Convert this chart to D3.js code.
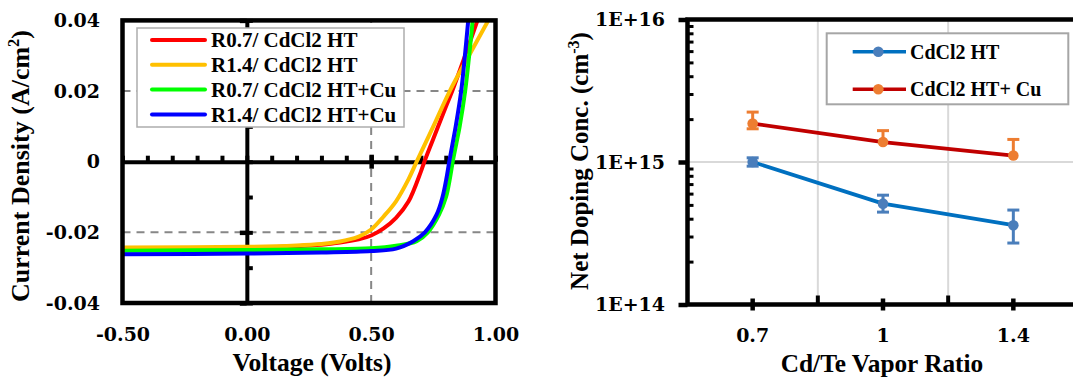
<!DOCTYPE html>
<html>
<head>
<meta charset="utf-8">
<script src="https://cdn.jsdelivr.net/npm/d3@7"></script>
<style>
  html, body { margin: 0; padding: 0; background: #ffffff; }
  svg { display: block; }
</style>
</head>
<body>
<svg id="chart" width="1073" height="380"></svg>
<script>
// ---------- J–V curves: voltage (V) and current density (A/cm²) ----------
const jvLabels = ["R0.7/ CdCl2 HT", "R1.4/ CdCl2 HT", "R0.7/ CdCl2 HT+Cu", "R1.4/ CdCl2 HT+Cu"];

const voltR07 = [-0.5, 0.0, 0.2, 0.3, 0.35, 0.4, 0.45, 0.5, 0.55, 0.6, 0.65, 0.7, 0.714, 0.75, 0.8, 0.826, 0.88, 0.93];
const currR07 = [-0.0246, -0.0243, -0.0239, -0.0235, -0.0231, -0.0226, -0.0220, -0.0209, -0.0189, -0.0159, -0.0113, -0.0028, 0.0, 0.0065, 0.0155, 0.0200, 0.0305, 0.0405];

const voltR14 = [-0.5, 0.0, 0.2, 0.3, 0.35, 0.4, 0.45, 0.5, 0.55, 0.6, 0.65, 0.683, 0.75, 0.816, 0.893, 0.975];
const currR14 = [-0.0243, -0.0241, -0.0237, -0.0233, -0.0229, -0.0222, -0.0212, -0.0192, -0.0155, -0.0112, -0.0050, 0.0, 0.0100, 0.0200, 0.0300, 0.0405];

const voltR07Cu = [-0.5, 0.0, 0.3, 0.5, 0.6, 0.683, 0.728, 0.773, 0.801, 0.816, 0.828, 0.842, 0.856, 0.878, 0.894, 0.909];
const currR07Cu = [-0.0252, -0.0250, -0.0248, -0.0245, -0.0238, -0.0225, -0.0200, -0.0150, -0.0100, -0.0050, 0.0, 0.0050, 0.0100, 0.0200, 0.0300, 0.0405];

const voltR14Cu = [-0.5, 0.0, 0.3, 0.5, 0.6, 0.669, 0.716, 0.763, 0.787, 0.802, 0.814, 0.827, 0.840, 0.862, 0.877, 0.891];
const currR14Cu = [-0.0262, -0.0260, -0.0257, -0.0253, -0.0246, -0.0225, -0.0200, -0.0150, -0.0100, -0.0050, 0.0, 0.0050, 0.0100, 0.0200, 0.0300, 0.0405];

const jvVoltTicks = [-0.5, 0.0, 0.5, 1.0];
const jvVoltTickLabels = ["-0.50", "0.00", "0.50", "1.00"];
const jvCurrTicks = [-0.04, -0.02, 0, 0.02, 0.04];
const jvCurrTickLabels = ["-0.04", "-0.02", "0", "0.02", "0.04"];
const jvGuideVolts = [0.5];
const jvGuideCurrs = [-0.02, 0.02];

// ---------- Net doping vs Cd/Te vapor ratio ----------
const ratios = ["0.7", "1", "1.4"];
const dopingLabels = ["CdCl2 HT", "CdCl2 HT+ Cu"];
const dopingHT = [1.0e15, 5.1e14, 3.6e14];
const dopingHTHigh = [1.07e15, 5.85e14, 4.6e14];
const dopingHTLow = [0.935e15, 4.45e14, 2.7e14];
const dopingCu = [1.86e15, 1.38e15, 1.11e15];
const dopingCuHigh = [2.24e15, 1.66e15, 1.44e15];
const dopingCuLow = [1.71e15, 1.38e15, 1.11e15];
const dopingTicks = [1e14, 1e15, 1e16];
const dopingTickLabels = ["1E+14", "1E+15", "1E+16"];

// ---------- shared styling ----------
const NUM_FONT = "'DejaVu Serif', 'Liberation Serif', serif";
const TXT_FONT = "'Liberation Serif', 'Times New Roman', serif";
const jvColors = ["#FF0000", "#FFC000", "#00FF00", "#0000FF"];

const svg = d3.select("#chart");

function styleLabels(g, font, size) {
  g.select(".domain").remove();
  g.selectAll("text")
    .attr("font-family", font)
    .attr("font-size", size)
    .attr("font-weight", "bold")
    .attr("fill", "#000");
  g.attr("font-family", null).attr("font-size", null);
}
function styleTicks(g, width) {
  g.selectAll(".tick line").attr("stroke", "#000").attr("stroke-width", width);
  g.selectAll("text").remove();
}

// =================== Left panel: J–V ===================
const xV = d3.scaleLinear().domain([-0.5, 1.0]).range([122.5, 495.5]);
const yJ = d3.scaleLinear().domain([-0.04, 0.04]).range([303, 20.4]);
const left = svg.append("g");

// dashed guides
left.selectAll("line.gv").data(jvGuideVolts).join("line")
  .attr("x1", d => xV(d)).attr("x2", d => xV(d))
  .attr("y1", yJ.range()[0]).attr("y2", yJ.range()[1])
  .attr("stroke", "#878787").attr("stroke-width", 2).attr("stroke-dasharray", "8,6");
left.selectAll("line.gh").data(jvGuideCurrs).join("line")
  .attr("x1", xV.range()[0]).attr("x2", xV.range()[1])
  .attr("y1", d => yJ(d)).attr("y2", d => yJ(d))
  .attr("stroke", "#878787").attr("stroke-width", 2).attr("stroke-dasharray", "8,6");

// centre axes (J = 0 and V = 0)
const hAxis = left.append("g").attr("transform", `translate(0,${yJ(0)})`)
  .call(d3.axisTop(xV).tickValues(xV.ticks(15)).tickSize(6).tickSizeOuter(0).tickFormat(""));
hAxis.select(".domain").attr("stroke", "#000").attr("stroke-width", 4);
styleTicks(hAxis, 4);
[d3.axisTop, d3.axisBottom].forEach(ax => {
  const g = left.append("g").attr("transform", `translate(0,${yJ(0)})`)
    .call(ax(xV).tickValues(jvGuideVolts).tickSize(7).tickSizeOuter(0).tickFormat(""));
  g.select(".domain").remove();
  styleTicks(g, 4.5);
});
const vAxis = left.append("g").attr("transform", `translate(${xV(0)},0)`)
  .call(d3.axisRight(yJ).tickValues(yJ.ticks(8)).tickSize(6).tickSizeOuter(0).tickFormat(""));
vAxis.select(".domain").attr("stroke", "#000").attr("stroke-width", 4);
styleTicks(vAxis, 4);
{
  const g = left.append("g").attr("transform", `translate(${xV(0)},0)`)
    .call(d3.axisLeft(yJ).tickValues(jvCurrTicks.filter(d => d !== 0)).tickSize(7).tickSizeOuter(0).tickFormat(""));
  g.select(".domain").remove();
  styleTicks(g, 4.5);
}

// curves
left.append("clipPath").attr("id", "jvClip").append("rect")
  .attr("x", xV.range()[0]).attr("y", yJ.range()[1])
  .attr("width", xV.range()[1] - xV.range()[0]).attr("height", yJ.range()[0] - yJ.range()[1]);
const jvSeries = [
  d3.zip(voltR07, currR07),
  d3.zip(voltR14, currR14),
  d3.zip(voltR07Cu, currR07Cu),
  d3.zip(voltR14Cu, currR14Cu)
];
const jvLine = d3.line().x(d => xV(d[0])).y(d => yJ(d[1])).curve(d3.curveCatmullRom.alpha(0.5));
left.append("g").attr("clip-path", "url(#jvClip)")
  .selectAll("path").data(jvSeries).join("path")
  .attr("d", jvLine).attr("fill", "none")
  .attr("stroke", (d, i) => jvColors[i]).attr("stroke-width", 4)
  .attr("stroke-linejoin", "round");

// frame
left.append("rect")
  .attr("x", xV.range()[0]).attr("y", yJ.range()[1])
  .attr("width", xV.range()[1] - xV.range()[0]).attr("height", yJ.range()[0] - yJ.range()[1])
  .attr("fill", "none").attr("stroke", "#000").attr("stroke-width", 4.5);

// tick labels
left.append("g").attr("transform", `translate(${xV.range()[0]},0)`)
  .call(d3.axisLeft(yJ).tickValues(jvCurrTicks).tickFormat((d, i) => jvCurrTickLabels[i]).tickSize(0).tickPadding(22.5))
  .call(g => styleLabels(g, NUM_FONT, 19));
left.append("g").attr("transform", `translate(0,${yJ.range()[0]})`)
  .call(d3.axisBottom(xV).tickValues(jvVoltTicks).tickFormat((d, i) => jvVoltTickLabels[i]).tickSize(0).tickPadding(24.5))
  .call(g => styleLabels(g, NUM_FONT, 19));

// axis titles
left.append("text")
  .attr("transform", "translate(28.5,166) rotate(-90)")
  .attr("text-anchor", "middle").attr("font-family", TXT_FONT).attr("font-size", 26).attr("font-weight", "bold")
  .call(t => {
    t.append("tspan").text("Current Density (A/cm");
    t.append("tspan").attr("font-size", 16.5).attr("dy", "-0.55em").text("2");
    t.append("tspan").attr("dy", "0.35em").text(")");
  });
left.append("text")
  .attr("x", 312).attr("y", 370.5)
  .attr("text-anchor", "middle").attr("font-family", TXT_FONT).attr("font-size", 25.5).attr("font-weight", "bold")
  .text("Voltage (Volts)");

// legend
const legL = left.append("g");
legL.append("rect").attr("x", 137).attr("y", 28).attr("width", 267).attr("height", 99)
  .attr("fill", "#fff").attr("stroke", "#ADADAD").attr("stroke-width", 1.5);
const legLRows = legL.selectAll("g.row").data(jvLabels).join("g")
  .attr("transform", (d, i) => `translate(0,${40 + i * 24.8})`);
legLRows.append("line").attr("x1", 152).attr("x2", 205).attr("y1", 0).attr("y2", 0)
  .attr("stroke", (d, i) => jvColors[i]).attr("stroke-width", 4).attr("stroke-linecap", "round");
legLRows.append("text").attr("x", 211).attr("y", 0).attr("dy", "0.34em")
  .attr("font-family", TXT_FONT).attr("font-size", 21).attr("font-weight", "bold").text(d => d);

// =================== Right panel: doping ===================
const xR = d3.scaleBand().domain(ratios).range([687.5, 1078.5]).padding(0);
const yD = d3.scaleLog().domain([1e14, 1e16]).range([304.5, 19.5]);
const cx = r => xR(r) + xR.bandwidth() / 2;
const right = svg.append("g");

// light grid
right.selectAll("line.gh").data(dopingTicks).join("line")
  .attr("x1", xR.range()[0]).attr("x2", xR.range()[1])
  .attr("y1", d => yD(d)).attr("y2", d => yD(d))
  .attr("stroke", "#D9D9D9").attr("stroke-width", 2);
const bounds = ratios.slice(1).map(r => xR(r));
right.selectAll("line.gv").data(bounds).join("line")
  .attr("x1", d => d).attr("x2", d => d)
  .attr("y1", yD.range()[0]).attr("y2", yD.range()[1])
  .attr("stroke", "#D9D9D9").attr("stroke-width", 2);

// frame
right.append("rect")
  .attr("x", xR.range()[0]).attr("y", yD.range()[1])
  .attr("width", xR.range()[1] - xR.range()[0]).attr("height", yD.range()[0] - yD.range()[1])
  .attr("fill", "none").attr("stroke", "#000").attr("stroke-width", 4.5);

// y ticks: minor inside, major outside
{
  const minor = yD.ticks().filter(d => !dopingTicks.includes(d));
  const g = right.append("g").attr("transform", `translate(${xR.range()[0]},0)`)
    .call(d3.axisRight(yD).tickValues(minor).tickSize(6).tickSizeOuter(0).tickFormat(""));
  g.select(".domain").remove();
  styleTicks(g, 3);
  const gM = right.append("g").attr("transform", `translate(${xR.range()[0]},0)`)
    .call(d3.axisLeft(yD).tickValues(dopingTicks).tickSize(9).tickSizeOuter(0).tickFormat(""));
  gM.select(".domain").remove();
  styleTicks(gM, 4.5);
}
// x ticks: crossing at categories, inward at boundaries
[d3.axisTop, d3.axisBottom].forEach(ax => {
  const g = right.append("g").attr("transform", `translate(0,${yD.range()[0]})`)
    .call(ax(xR).tickSize(6).tickSizeOuter(0).tickFormat(""));
  g.select(".domain").remove();
  styleTicks(g, 4.5);
});
right.selectAll("line.bt").data(bounds).join("line")
  .attr("x1", d => d).attr("x2", d => d)
  .attr("y1", yD.range()[0]).attr("y2", yD.range()[0] - 9)
  .attr("stroke", "#000").attr("stroke-width", 4);

// tick labels
right.append("g").attr("transform", `translate(${xR.range()[0]},0)`)
  .call(d3.axisLeft(yD).tickValues(dopingTicks).tickFormat((d, i) => dopingTickLabels[i]).tickSize(0).tickPadding(22.5))
  .call(g => styleLabels(g, NUM_FONT, 19));
right.append("g").attr("transform", `translate(0,${yD.range()[0]})`)
  .call(d3.axisBottom(xR).tickSize(0).tickPadding(24.5))
  .call(g => styleLabels(g, NUM_FONT, 19));

// axis titles
right.append("text")
  .attr("transform", "translate(588,161) rotate(-90)")
  .attr("text-anchor", "middle").attr("font-family", TXT_FONT).attr("font-size", 25).attr("font-weight", "bold")
  .call(t => {
    t.append("tspan").text("Net Doping Conc. (cm");
    t.append("tspan").attr("font-size", 16).attr("dy", "-0.55em").text("-3");
    t.append("tspan").attr("dy", "0.35em").text(")");
  });
right.append("text")
  .attr("x", 882).attr("y", 372)
  .attr("text-anchor", "middle").attr("font-family", TXT_FONT).attr("font-size", 25.3).attr("font-weight", "bold")
  .text("Cd/Te Vapor Ratio");

// series
const dopingSeries = [
  { vals: dopingHT, hi: dopingHTHigh, lo: dopingHTLow, line: "#0070C0", mark: "#4A7EBB" },
  { vals: dopingCu, hi: dopingCuHigh, lo: dopingCuLow, line: "#C00000", mark: "#ED7D31" }
];
const dLine = d3.line().x((d, i) => cx(ratios[i])).y(d => yD(d));
dopingSeries.forEach(s => {
  right.append("path").attr("d", dLine(s.vals)).attr("fill", "none")
    .attr("stroke", s.line).attr("stroke-width", 3.8).attr("stroke-linejoin", "round");
});
dopingSeries.forEach(s => {
  const eg = right.append("g").attr("stroke", s.mark).attr("stroke-width", 3);
  ratios.forEach((r, i) => {
    eg.append("line").attr("x1", cx(r)).attr("x2", cx(r)).attr("y1", yD(s.lo[i])).attr("y2", yD(s.hi[i]));
    eg.append("line").attr("x1", cx(r) - 6).attr("x2", cx(r) + 6).attr("y1", yD(s.hi[i])).attr("y2", yD(s.hi[i]));
    if (s.lo[i] < s.vals[i]) {
      eg.append("line").attr("x1", cx(r) - 6).attr("x2", cx(r) + 6).attr("y1", yD(s.lo[i])).attr("y2", yD(s.lo[i]));
    }
  });
});
dopingSeries.forEach(s => {
  right.append("g").selectAll("circle").data(s.vals).join("circle")
    .attr("cx", (d, i) => cx(ratios[i])).attr("cy", d => yD(d)).attr("r", 5.3)
    .attr("fill", s.mark);
});

// legend
const legR = right.append("g");
legR.append("rect").attr("x", 826.7).attr("y", 33.3).attr("width", 241.6).attr("height", 71)
  .attr("fill", "#fff").attr("stroke", "#A6A6A6").attr("stroke-width", 2);
const legRRows = legR.selectAll("g.row").data(dopingSeries).join("g")
  .attr("transform", (d, i) => `translate(0,${51.7 + i * 37.6})`);
legRRows.append("line").attr("x1", 852.7).attr("x2", 906).attr("y1", 0).attr("y2", 0)
  .attr("stroke", d => d.line).attr("stroke-width", 3.5);
legRRows.append("circle").attr("cx", 878.3).attr("cy", 0).attr("r", 5.3).attr("fill", d => d.mark);
legRRows.append("text").attr("x", 910).attr("y", 0).attr("dy", "0.34em")
  .attr("font-family", TXT_FONT).attr("font-size", 20).attr("font-weight", "bold")
  .text((d, i) => dopingLabels[i]);
</script>
</body>
</html>
